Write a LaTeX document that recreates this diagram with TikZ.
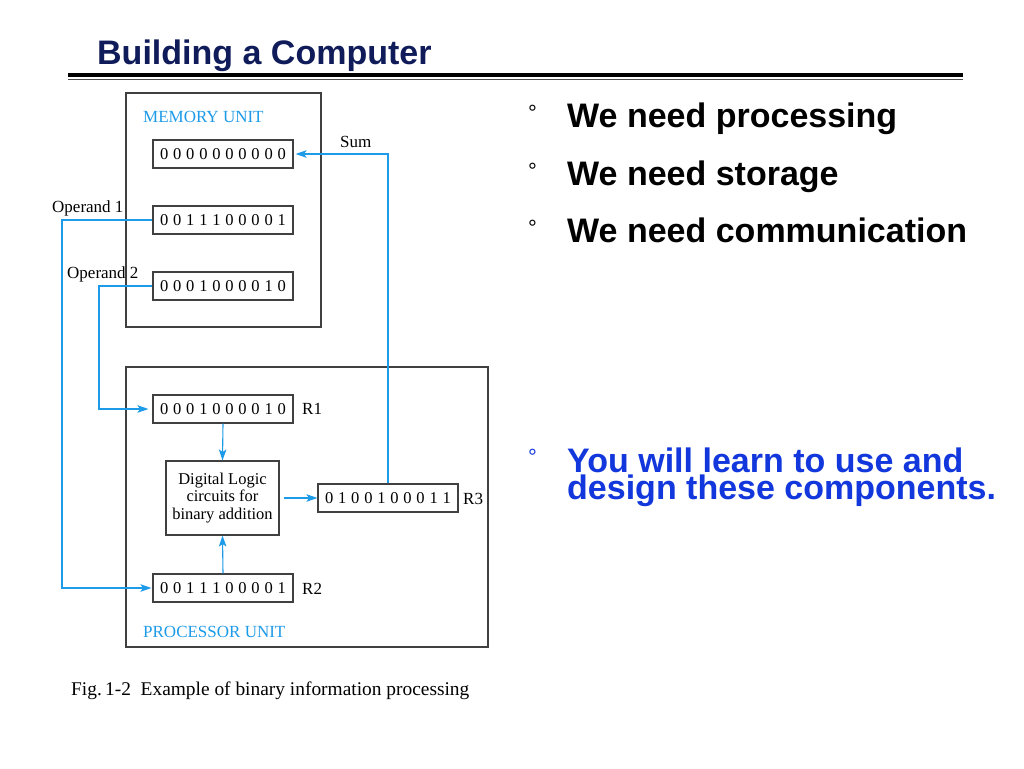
\documentclass[tikz,border=0pt]{standalone}
\usepackage{fontspec}
\setmainfont{Liberation Serif}
\newfontfamily\hfont{Liberation Sans}
\usetikzlibrary{arrows.meta}
\definecolor{navy}{HTML}{101C5A}
\definecolor{dblue}{HTML}{1237DC}
\definecolor{lblue}{HTML}{1E9BE8}
\definecolor{boxgray}{HTML}{404040}
\def\bitgap{\hspace{4.8pt}}
\def\bitsA#1{\ifx#1\relax\else\bitgap#1\expandafter\bitsA\fi}
\def\bitsB#1{#1\bitsA}
\newcommand\bits[1]{\bitsB#1\relax}
\begin{document}
\begin{tikzpicture}[x=1pt,y=-1pt,
  reg/.style={draw=boxgray, line width=1.1pt, minimum width=140pt, minimum height=28pt, inner sep=0pt, font=\fontsize{16.5}{19}\selectfont},
  unitbox/.style={draw=boxgray, line width=1.2pt, inner sep=0pt},
  lbl/.style={font=\fontsize{17}{20}\selectfont, inner sep=0pt, anchor=base west},
  unitlbl/.style={lbl, text=lblue},
  conn/.style={draw=lblue, line width=1.1pt},
  arr/.style={conn, -{Stealth[length=11pt,width=7.5pt,inset=2.5pt]}},
  bul/.style={font=\hfont\fontsize{22}{24}\selectfont, inner sep=0pt, anchor=base west},
  point/.style={font=\hfont\bfseries\fontsize{34}{27}\selectfont, inner sep=0pt, anchor=base west}
]
\useasboundingbox (0,0) rectangle (1024,768);
\fill[white] (0,0) rectangle (1024,768);

% title and rules
\node[anchor=base west, font=\hfont\bfseries\fontsize{34}{40}\selectfont, text=navy, inner sep=0pt] (title) at (97,64) {Building a Computer};
\draw[line width=4.2pt] (68,75) -- (963,75);
\draw[line width=1.2pt, black!70] (68,79.5) -- (963,79.5);

% unit boxes
\node[unitbox, minimum width=195pt, minimum height=234pt] (mem) at (223.5,210) {};
\node[unitbox, minimum width=362pt, minimum height=280pt] (proc) at (307,507) {};
\node[unitlbl] (memlbl) at (143,122) {MEMORY UNIT};
\node[unitlbl] (proclbl) at (143,637) {PROCESSOR UNIT};

% memory registers
\node[reg] (m1) at (223,154) {\bits{0000000000}};
\node[reg] (m2) at (223,220) {\bits{0011100001}};
\node[reg] (m3) at (223,286) {\bits{0001000010}};

% processor registers
\node[reg] (r1) at (223,409) {\bits{0001000010}};
\node[reg] (r2) at (223,588) {\bits{0011100001}};
\node[reg] (r3) at (388,498) {\bits{0100100011}};
\node[lbl] (r1l) at (302,414.5) {R1};
\node[lbl] (r2l) at (302,594) {R2};
\node[lbl] (r3l) at (463,504) {R3};
\node[draw=boxgray, line width=1.1pt, minimum width=113pt, minimum height=74pt, inner sep=0pt, align=center,
      font=\fontsize{16.5}{17.3}\selectfont] (dl) at (222.5,498) {Digital Logic\\circuits for\\binary addition};

% labels
\node[lbl] (sum) at (340,147) {Sum};
\node[lbl] (op1) at (52,212) {Operand 1};
\node[lbl] (op2) at (67,278) {Operand 2};

% connectors
\coordinate (c1) at (62,220);
\coordinate (c2) at (99,286);
\draw[arr, shorten >=2pt] (r3.north) |- (m1.east);
\draw[arr, shorten >=1pt] (m2.west) -- (c1) |- (r2.west);
\draw[arr, shorten >=4pt] (m3.west) -- (c2) |- (r1.west);
\draw[arr] (r1.south) -- (dl.north);
\draw[arr] (r2.north) -- (dl.south);
\draw[arr, shorten <=4pt] (dl.east) -- (r3.west);

% caption
\node[anchor=base west, inner sep=0pt, font=\fontsize{19.4}{22}\selectfont] (cap) at (71,695) {Fig.\,1-2\ \ Example of binary information processing};

% bullet points
\node[bul] (b1) at (528,120.5) {°};
\node[point] (p1) at (567,127) {We need processing};
\node[bul] (b2) at (528,178.5) {°};
\node[point] (p2) at (567,185) {We need storage};
\node[bul] (b3) at (528,235.5) {°};
\node[point] (p3) at (567,242) {We need communication};
\node[bul, text=dblue] (b4) at (528,464) {°};
\node[point, text=dblue, align=left, anchor=north west] (p4) at (567,447.3) {You will learn to use and\\design these components.};
\end{tikzpicture}
\end{document}
